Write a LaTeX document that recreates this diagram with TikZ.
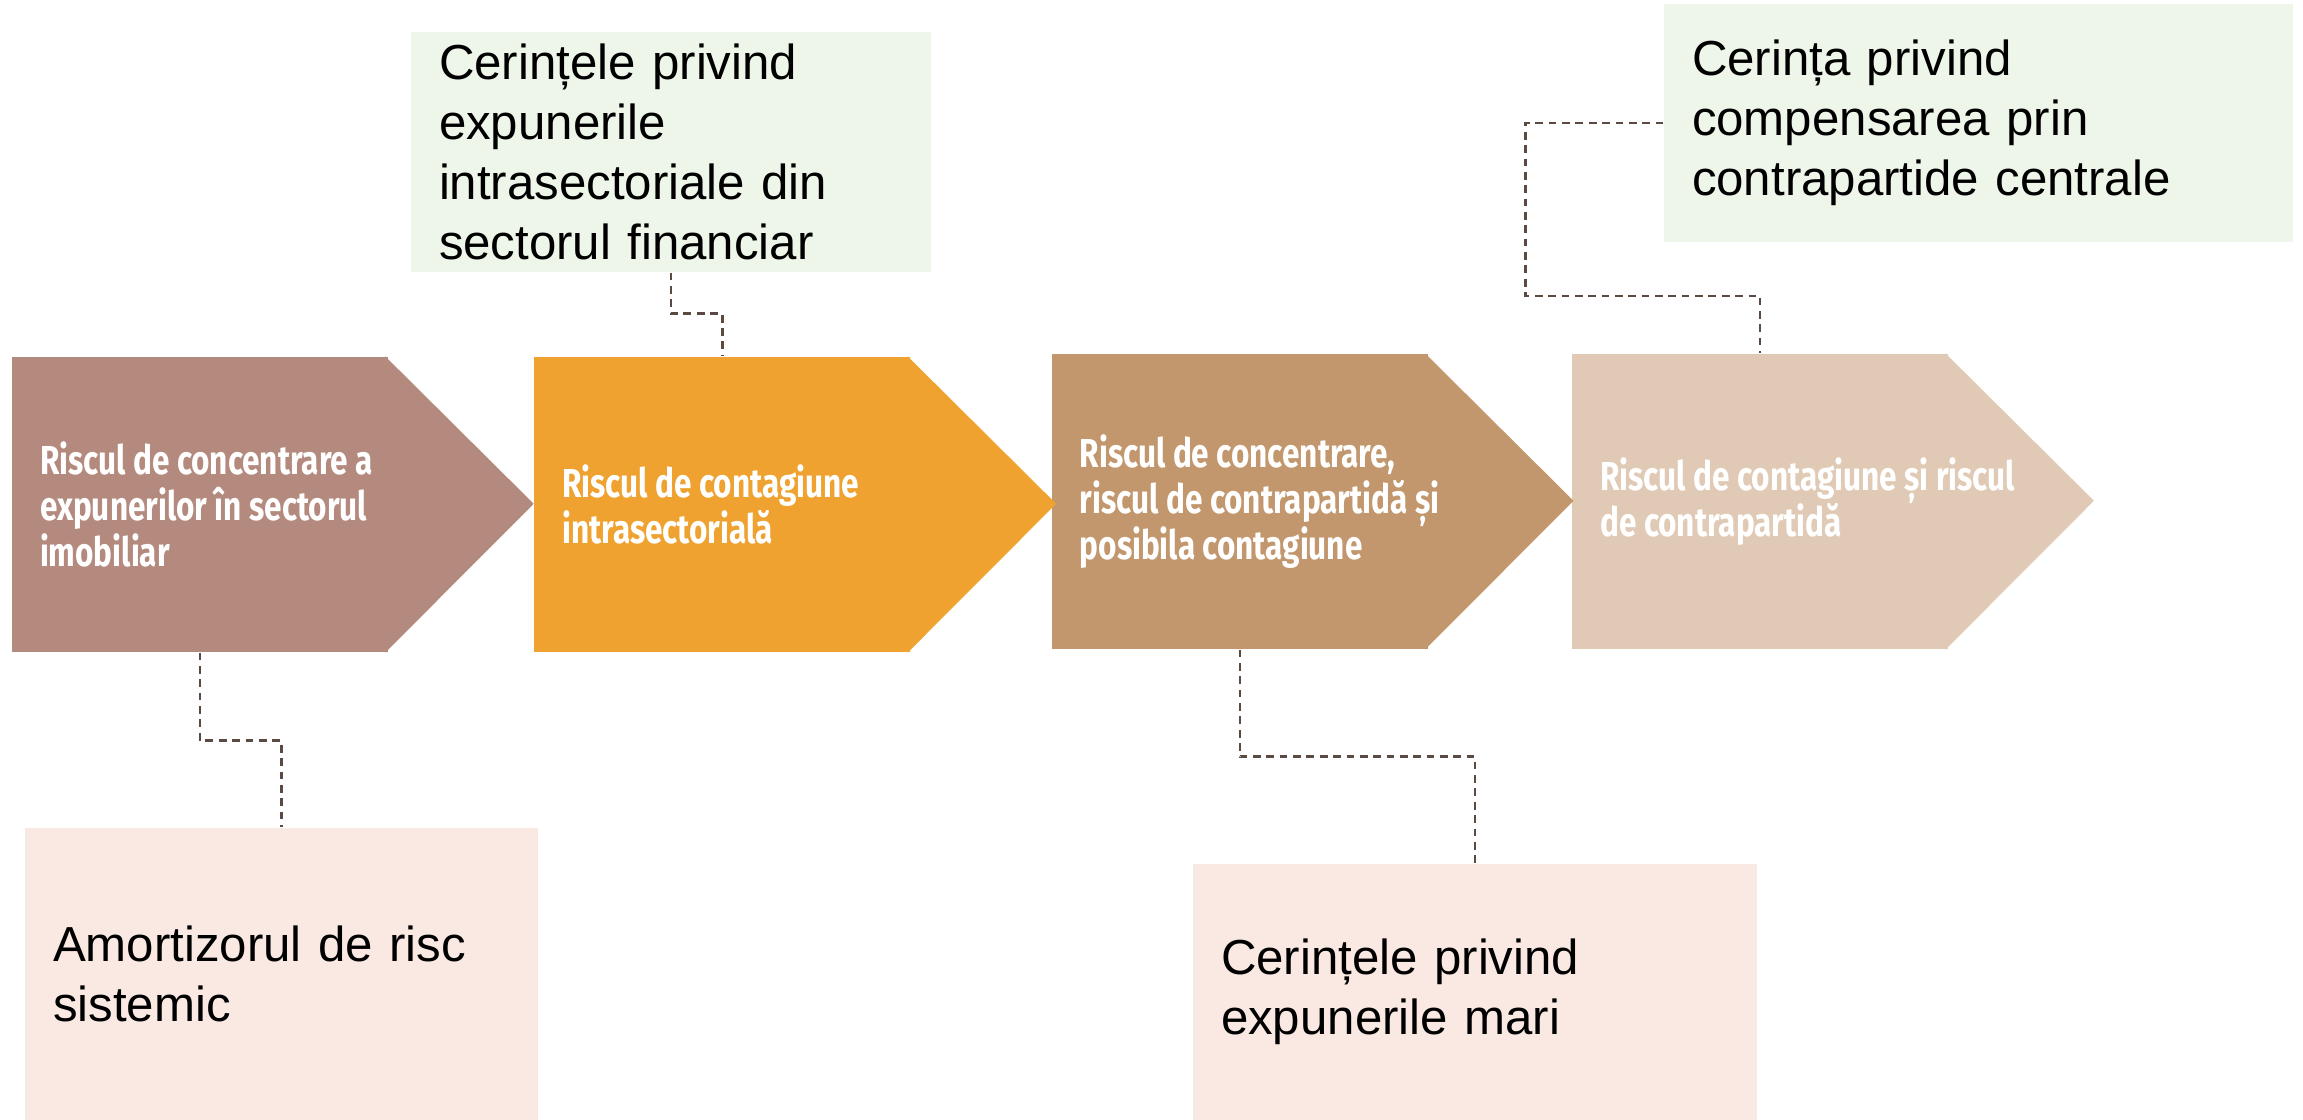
\documentclass[tikz,border=0pt]{standalone}
\usepackage{fontspec}
\setmainfont{Liberation Sans}
\newfontfamily\chevfont{Fira Sans}[FakeStretch=0.78]
\usetikzlibrary{positioning}

\definecolor{riskA}{RGB}{180,138,126}
\definecolor{riskB}{RGB}{239,162,47}
\definecolor{riskC}{RGB}{195,151,109}
\definecolor{riskD}{RGB}{225,202,181}
\definecolor{reqgreen}{RGB}{238,246,234}
\definecolor{reqpink}{RGB}{250,233,227}
\definecolor{linkcol}{RGB}{90,74,66}

\tikzset{
    riskbox/.style={minimum width=3.76cm, minimum height=2.95cm, inner sep=0},
    risktext/.style={anchor=west, align=left, text=white, inner sep=0,
        font=\chevfont\bfseries\fontsize{11.5}{13.2}\selectfont},
    reqbox/.style={inner xsep=0.28cm, inner ysep=0, align=left,
        font=\fontsize{14}{17}\selectfont},
    link/.style={linkcol, line width=0.7pt, dash pattern=on 2.2pt off 1.6pt}
}

\begin{document}
\begin{tikzpicture}
        \useasboundingbox (0,0) rectangle (23.03,11.2);
        \node[riskbox, fill=riskA] (r1) at (2,6.155) {};
        \node[riskbox, fill=riskB, right=1.45cm of r1] (r2) {};
        \node[riskbox, fill=riskC, right=1.40cm of r2, yshift=0.03cm] (r3) {};
        \node[riskbox, fill=riskD, right=1.43cm of r3] (r4) {};
        \foreach \n/\c in {r1/riskA, r2/riskB, r3/riskC, r4/riskD}
            \fill[\c] ([xshift=-1pt]\n.north east) -- ++(1.45cm+1pt,-1.475) -- ([xshift=-1pt]\n.south east) -- cycle;
        \node[risktext] (t1) at ([xshift=0.28cm]r1.west) {Riscul de concentrare a\\expunerilor în sectorul\\imobiliar};
        \node[risktext] (t2) at ([xshift=0.28cm]r2.west) {Riscul de contagiune\\intrasectorială};
        \node[risktext] (t3) at ([xshift=0.28cm]r3.west) {Riscul de concentrare,\\riscul de contrapartidă și\\posibila contagiune};
        \node[risktext] (t4) at ([xshift=0.28cm]r4.west) {Riscul de contagiune și riscul\\de contrapartidă};
        \node[reqbox, fill=reqgreen, text width=4.64cm, minimum height=2.4cm] (g1) at (6.71,9.68) {Cerințele privind\\expunerile\\intrasectoriale din\\sectorul financiar};
        \node[reqbox, fill=reqgreen, text width=5.73cm, minimum height=2.38cm] (g2) at (19.785,9.97) {Cerința privind\\compensarea prin\\contrapartide centrale};
        \node[reqbox, fill=reqpink, text width=4.57cm, minimum height=2.92cm] (p1) at (2.815,1.46) {Amortizorul de risc\\sistemic};
        \node[reqbox, fill=reqpink, text width=5.08cm, minimum height=2.56cm] (p2) at (14.75,1.28) {Cerințele privind\\expunerile mari};
        \draw[link] (r1.south) -- ++(0,-0.88) -| (p1.north);
        \draw[link] (g1.south) -- ++(0,-0.41) -| (r2.north);
        \draw[link] (r3.south) -- ++(0,-1.07) -| (p2.north);
        \draw[link] (g2.west) -- ++(-1.38,0) -- ++(0,-1.73) -| (r4.north);
\end{tikzpicture}
\end{document}
